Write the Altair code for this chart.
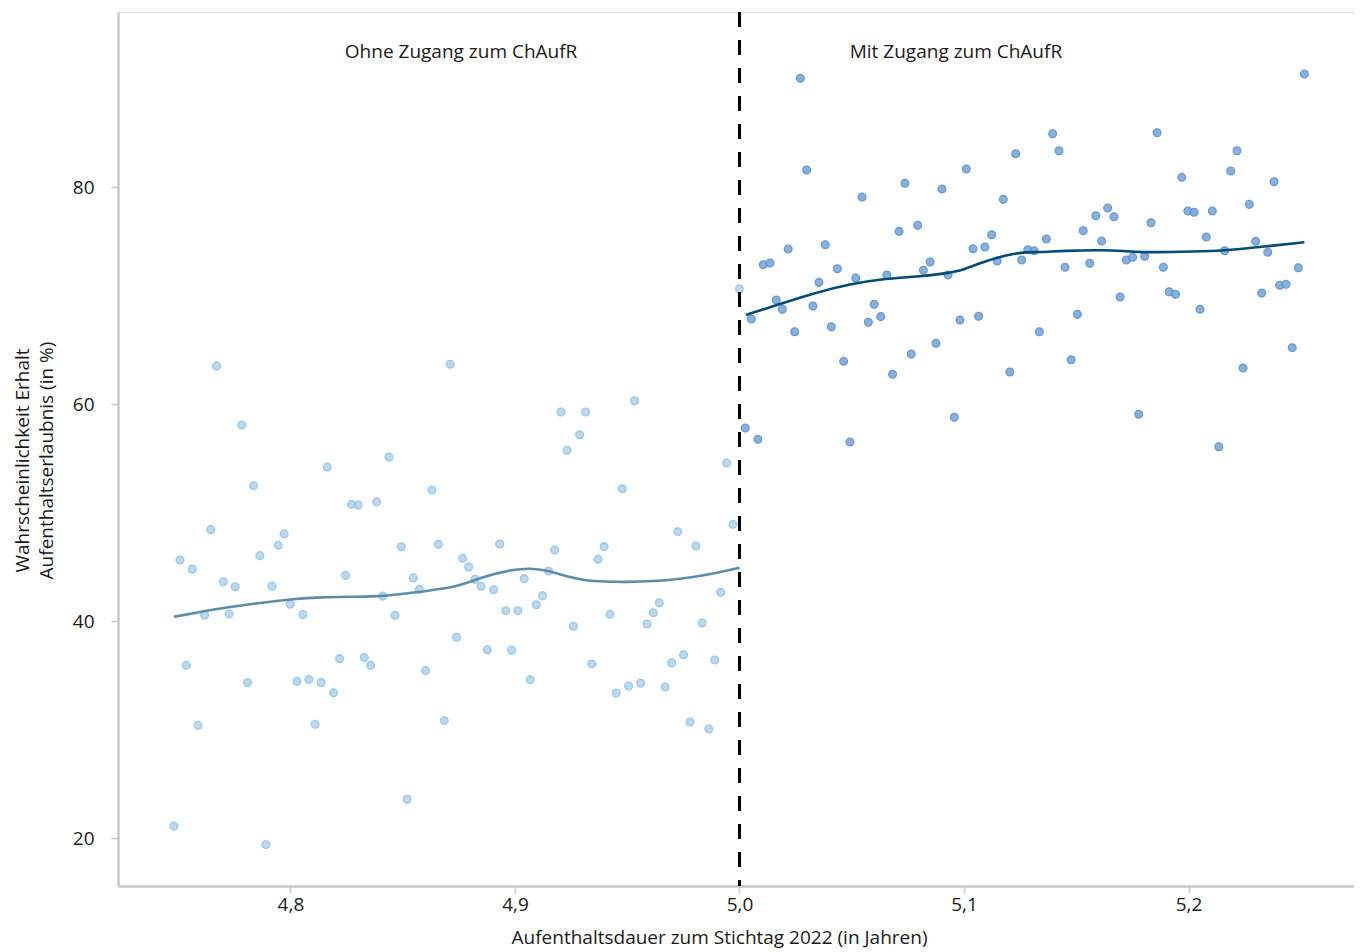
import altair as alt
import pandas as pd

# ---- data ----
left_x = [4.7481, 4.7508, 4.7536, 4.7563, 4.7589, 4.7618, 4.7645, 4.7671, 4.7701, 4.7727,
          4.7754, 4.7783, 4.7809, 4.7836, 4.7864, 4.7891, 4.7918, 4.7946, 4.7972, 4.7999,
          4.8029, 4.8056, 4.8082, 4.8110, 4.8137, 4.8164, 4.8192, 4.8219, 4.8246, 4.8272,
          4.8302, 4.8329, 4.8357, 4.8384, 4.8411, 4.8439, 4.8466, 4.8494, 4.8520, 4.8547,
          4.8574, 4.8602, 4.8630, 4.8659, 4.8685, 4.8712, 4.8740, 4.8767, 4.8794, 4.8822,
          4.8849, 4.8877, 4.8905, 4.8932, 4.8959, 4.8985, 4.9013, 4.9041, 4.9068, 4.9095,
          4.9123, 4.9150, 4.9177, 4.9205, 4.9232, 4.9260, 4.9288, 4.9315, 4.9342, 4.9370,
          4.9397, 4.9423, 4.9451, 4.9478, 4.9506, 4.9533, 4.9560, 4.9588, 4.9616, 4.9643,
          4.9669, 4.9698, 4.9725, 4.9751, 4.9780, 4.9806, 4.9834, 4.9863, 4.9890, 4.9916,
          4.9943, 4.9971, 5.0000]
left_y = [21.12, 45.65, 35.94, 44.79, 30.41, 40.55, 48.45, 63.52, 43.64, 40.68,
          43.18, 58.09, 34.36, 52.50, 46.05, 19.42, 43.24, 47.00, 48.06, 41.57,
          34.46, 40.62, 34.63, 30.51, 34.36, 54.21, 33.40, 36.56, 44.23, 50.78,
          50.72, 36.66, 35.94, 51.01, 42.32, 55.13, 40.55, 46.87, 23.59, 44.00,
          42.95, 35.45, 52.10, 47.10, 30.84, 63.69, 38.53, 45.81, 45.00, 43.87,
          43.23, 37.38, 42.91, 47.12, 40.98, 37.33, 40.98, 43.93, 34.62, 41.53,
          42.36, 44.63, 46.57, 59.29, 55.76, 39.54, 57.20, 59.29, 36.07, 45.71,
          46.88, 40.64, 33.39, 52.22, 34.04, 60.33, 34.29, 39.75, 40.79, 41.71,
          33.94, 36.18, 48.26, 36.92, 30.72, 46.94, 39.84, 30.07, 36.43, 42.67,
          54.59, 48.94, 70.63]

right_x = [5.0026, 5.0053, 5.0082, 5.0106, 5.0136, 5.0164, 5.0191, 5.0217, 5.0246, 5.0271,
           5.0299, 5.0327, 5.0354, 5.0382, 5.0409, 5.0436, 5.0464, 5.0492, 5.0518, 5.0546,
           5.0574, 5.0600, 5.0629, 5.0656, 5.0682, 5.0711, 5.0737, 5.0765, 5.0794, 5.0819,
           5.0849, 5.0875, 5.0902, 5.0929, 5.0957, 5.0982, 5.1010, 5.1040, 5.1065, 5.1093,
           5.1123, 5.1148, 5.1175, 5.1204, 5.1230, 5.1257, 5.1284, 5.1312, 5.1336, 5.1367,
           5.1395, 5.1423, 5.1450, 5.1477, 5.1505, 5.1531, 5.1560, 5.1587, 5.1613, 5.1640,
           5.1668, 5.1695, 5.1723, 5.1751, 5.1778, 5.1805, 5.1833, 5.1860, 5.1888, 5.1914,
           5.1942, 5.1970, 5.1997, 5.2025, 5.2051, 5.2079, 5.2106, 5.2135, 5.2161, 5.2188,
           5.2216, 5.2243, 5.2271, 5.2299, 5.2326, 5.2353, 5.2381, 5.2406, 5.2434, 5.2462,
           5.2489, 5.2516]
right_y = [57.82, 67.86, 56.77, 72.87, 73.02, 69.61, 68.76, 74.31, 66.69, 90.05,
           81.59, 69.06, 71.24, 74.71, 67.15, 72.50, 63.96, 56.52, 71.64, 79.11,
           67.56, 69.22, 68.08, 71.92, 62.77, 75.94, 80.37, 64.64, 76.50, 72.35,
           73.12, 65.62, 79.84, 71.92, 58.80, 67.77, 81.69, 74.34, 68.11, 74.50,
           75.63, 73.21, 78.89, 62.98, 83.10, 73.30, 74.25, 74.16, 66.69, 75.23,
           84.94, 83.37, 72.63, 64.11, 68.29, 76.00, 73.00, 77.38, 75.05, 78.09,
           77.29, 69.89, 73.30, 73.55, 59.08, 73.64, 76.74, 85.03, 72.63, 70.38,
           70.14, 80.92, 77.82, 77.70, 68.76, 75.42, 77.82, 56.09, 74.16, 81.50,
           83.37, 63.35, 78.43, 75.02, 70.26, 74.01, 80.52, 70.97, 71.06, 65.22,
           72.59, 90.44]

smooth_left_x = [4.7481, 4.7618, 4.7727, 4.7864, 4.7999, 4.8137, 4.8302, 4.8411, 4.8494,
                 4.8577, 4.8618, 4.8740, 4.8822, 4.8903, 4.8985, 4.9067, 4.9148, 4.9230,
                 4.9319, 4.9393, 4.9498, 4.9616, 4.9735, 4.9854, 5.0000]
smooth_left_y = [40.41, 40.95, 41.31, 41.70, 42.03, 42.23, 42.26, 42.32, 42.52,
                 42.70, 42.85, 43.19, 43.81, 44.36, 44.73, 44.92, 44.68, 44.11,
                 43.74, 43.65, 43.62, 43.68, 43.90, 44.27, 44.94]
smooth_right_x = [5.0029, 5.0166, 5.0329, 5.0492, 5.0656, 5.0789, 5.0923, 5.0997, 5.1086,
                  5.1190, 5.1279, 5.1339, 5.1442, 5.1621, 5.1710, 5.1784, 5.1918, 5.2066,
                  5.2185, 5.2333, 5.2516]
smooth_right_y = [68.23, 69.15, 70.23, 71.09, 71.61, 71.76, 72.07, 72.38, 73.14,
                  73.76, 74.06, 74.00, 74.16, 74.22, 74.13, 74.00, 74.04, 74.10,
                  74.22, 74.53, 74.93]

labels_text = ["Ohne Zugang zum ChAufR", "Mit Zugang zum ChAufR"]
labels_x = [4.876, 5.0964]
labels_y = [92.47, 92.47]
cutoff = [5.0]

x_ticks = [4.8, 4.9, 5.0, 5.1, 5.2]
y_ticks = [20, 40, 60, 80]

FONT = "Open Sans"
FS = 19

df_left = pd.DataFrame({"x": left_x, "y": left_y})
df_right = pd.DataFrame({"x": right_x, "y": right_y})
df_sl = pd.DataFrame({"x": smooth_left_x, "y": smooth_left_y})
df_sr = pd.DataFrame({"x": smooth_right_x, "y": smooth_right_y})
df_lab = pd.DataFrame({"x": labels_x, "y": labels_y, "t": labels_text})
df_cut = pd.DataFrame({"x": cutoff})

xs = alt.Scale(domain=[4.7232, 5.2737], nice=False, zero=False)
ys = alt.Scale(domain=[15.60, 96.16], nice=False, zero=False)

x_axis = alt.Axis(values=x_ticks, labelExpr="replace(format(datum.value, '.1f'), '.', ',')",
                  title="Aufenthaltsdauer zum Stichtag 2022 (in Jahren)",
                  grid=False, domainColor="#c8c8c8", domainWidth=2.5,
                  tickColor="#c8c8c8", tickWidth=1.5, tickSize=7,
                  labelFont=FONT, labelFontSize=FS, labelColor="#1a1a1a", labelPadding=2,
                  titleFont=FONT, titleFontSize=FS, titleFontWeight="normal", titleColor="#1a1a1a",
                  titleX=601, titleY=51, titleBaseline="middle", titleAlign="center")
y_axis = alt.Axis(values=y_ticks, format="d",
                  title=["Wahrscheinlichkeit Erhalt", "Aufenthaltserlaubnis (in %)"],
                  grid=False, domainColor="#c8c8c8", domainWidth=2.5,
                  tickColor="#c8c8c8", tickWidth=1.5, tickSize=7,
                  labelFont=FONT, labelFontSize=FS, labelColor="#1a1a1a", labelPadding=17,
                  titleFont=FONT, titleFontSize=FS, titleFontWeight="normal", titleColor="#1a1a1a",
                  titleX=-105, titleY=448, titleBaseline="top", titleAlign="center",
                  titleLineHeight=24, titleAngle=270)

base_x = alt.X("x:Q", scale=xs, axis=x_axis)
base_y = alt.Y("y:Q", scale=ys, axis=y_axis)

pts_left = alt.Chart(df_left).mark_point(
    filled=True, size=60, fill="#b3d5ee", stroke="#92c2e5", strokeWidth=1.3, opacity=0.9
).encode(x=base_x, y=base_y)

pts_right = alt.Chart(df_right).mark_point(
    filled=True, size=60, fill="#7aa8da", stroke="#5a90cc", strokeWidth=1.3, opacity=0.9
).encode(x="x:Q", y="y:Q")

line_left = alt.Chart(df_sl).mark_line(
    color="#5b8dab", strokeWidth=2.6, interpolate="basis"
).encode(x="x:Q", y="y:Q")

line_right = alt.Chart(df_sr).mark_line(
    color="#004b78", strokeWidth=2.6, interpolate="basis"
).encode(x="x:Q", y="y:Q")

cut = alt.Chart(df_cut).mark_rule(
    color="black", strokeWidth=3, strokeDash=[15, 13]
).encode(x="x:Q")

labels = alt.Chart(df_lab).mark_text(
    font=FONT, fontSize=FS, color="#1a1a1a", align="center", baseline="middle"
).encode(x="x:Q", y="y:Q", text="t:N")

chart = alt.layer(pts_left, pts_right, line_left, line_right, cut, labels).properties(
    width=1236, height=874,
    autosize=alt.AutoSizeParams(type="none"),
    padding={"left": 110, "top": 4, "right": 0, "bottom": 62},
).configure_view(stroke=None).configure(background="white")

chart.save("out.html", embed_options={"renderer": "svg", "actions": False})
